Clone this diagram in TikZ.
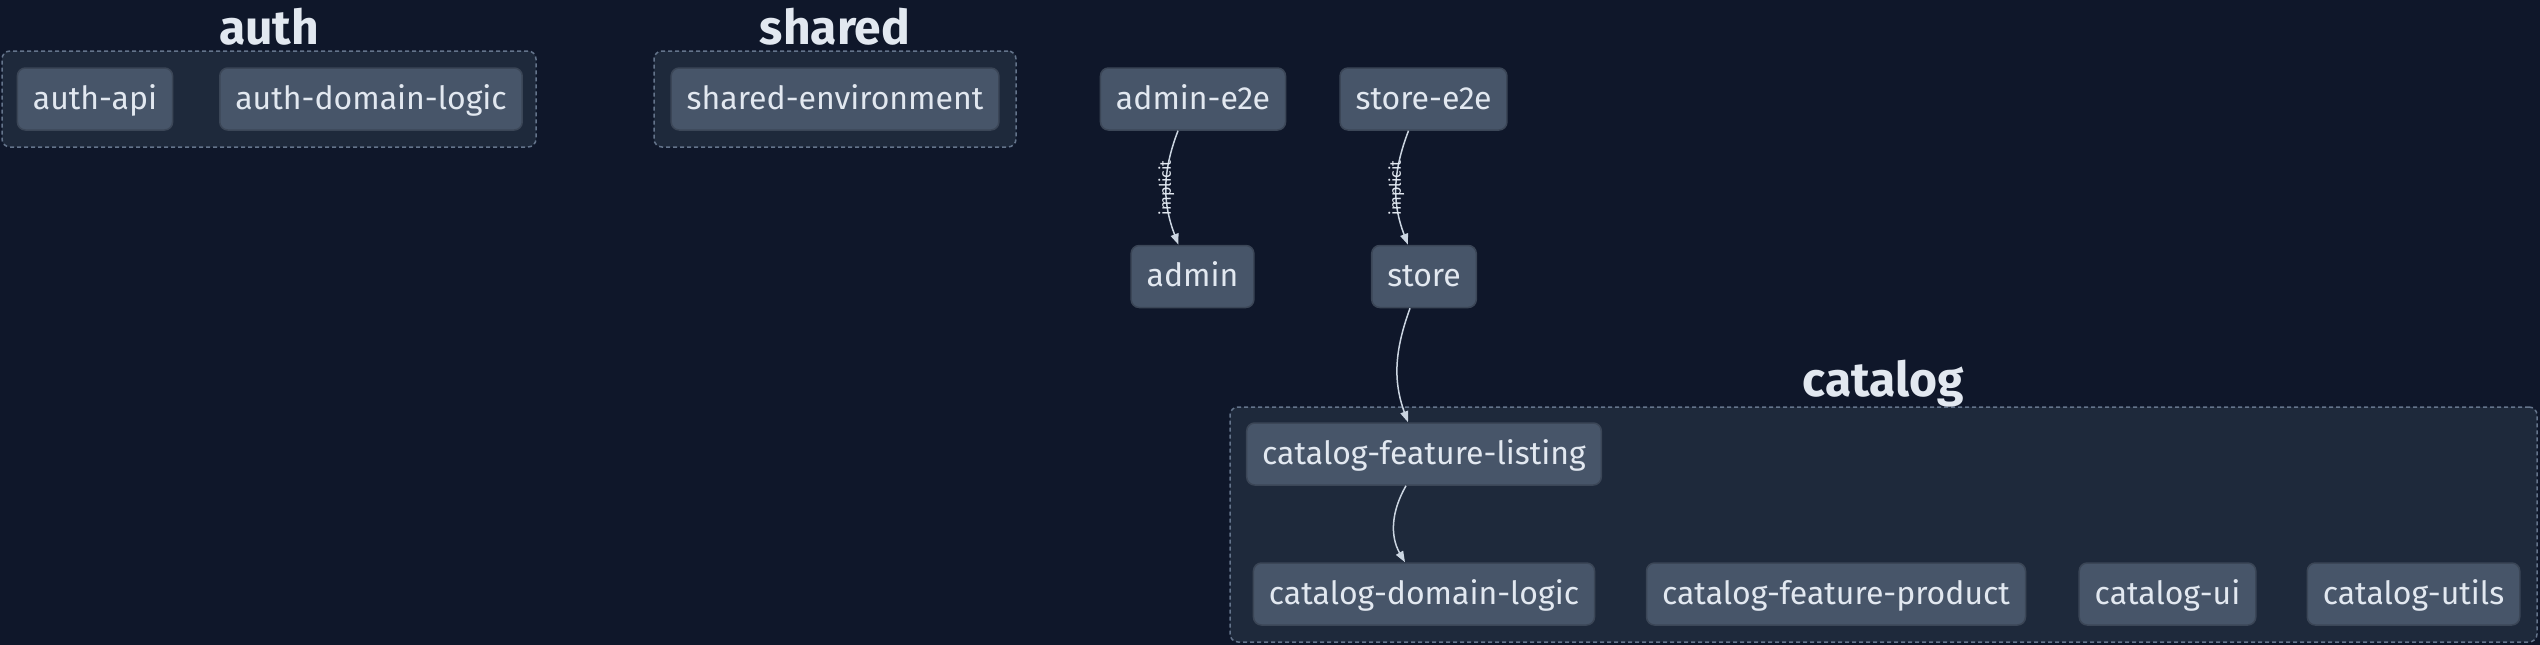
\documentclass[tikz,border=0pt]{standalone}
\usepackage{fontspec}
\setmainfont{Fira Sans}
\usetikzlibrary{arrows.meta}
\definecolor{bgdark}{HTML}{0F172A}
\definecolor{groupfill}{HTML}{1E293B}
\definecolor{groupline}{HTML}{64748B}
\definecolor{projfill}{HTML}{475569}
\definecolor{projline}{HTML}{3B4657}
\definecolor{labeltext}{HTML}{E2E8F0}
\definecolor{edgeline}{HTML}{CBD5E1}
\tikzset{
  project/.style={draw=projline,fill=projfill,rounded corners=8pt,line width=1.5pt,
    text=labeltext,font=\fontsize{32}{38}\selectfont,minimum height=62pt,
    inner xsep=15.5pt,text height=25pt,text depth=5pt},
  group/.style={draw=groupline,fill=groupfill,dash pattern=on 4pt off 3pt,
    rounded corners=8pt,line width=1.5pt},
  grouptitle/.style={text=labeltext,font=\fontsize{48}{56}\selectfont\bfseries,anchor=base},
  dep/.style={draw=edgeline,line width=1.5pt,->},
  implicitlabel/.style={text=labeltext,font=\fontsize{16}{18}\selectfont,rotate=90,inner sep=0pt}
}
\begin{document}
\begin{tikzpicture}[x=1pt,y=-1pt,>={Triangle[length=11pt,width=8pt]}]
\useasboundingbox (0,0) rectangle (2540,645);
\fill[bgdark] (0,0) rectangle (2540,645);

% groups
\node[group,minimum width=534pt,minimum height=96pt] (authgroup) at (269,99) {};
\node[grouptitle] (authtitle) at ([yshift=6pt]authgroup.north) {auth};
\node[group,minimum width=362pt,minimum height=96pt] (sharedgroup) at (835,99) {};
\node[grouptitle] (sharedtitle) at ([yshift=6pt]sharedgroup.north) {shared};
\node[group,minimum width=1307pt,minimum height=235pt] (cataloggroup) at (1883.5,524.5) {};
\node[grouptitle] (catalogtitle) at ([yshift=10pt]cataloggroup.north) {catalog};

% projects
\node[project] (authapi) at (95,99) {auth-api};
\node[project] (authdomain) at (371,99) {auth-domain-logic};
\node[project] (sharedenv) at (835,99) {shared-environment};
\node[project] (admine2e) at (1193,99) {admin-e2e};
\node[project] (storee2e) at (1423.5,99) {store-e2e};
\node[project] (admin) at (1192.5,276.5) {admin};
\node[project] (store) at (1424,276.5) {store};
\node[project] (catlisting) at (1424,454) {catalog-feature-listing};
\node[project] (catdomain) at (1424,594) {catalog-domain-logic};
\node[project] (catproduct) at (1836,594) {catalog-feature-product};
\node[project] (catui) at (2167.5,594) {catalog-ui};
\node[project] (catutils) at (2413.5,594) {catalog-utils};

% dependencies
\draw[dep] ([xshift=-15pt]admine2e.south) to[out=-111,in=111]
  node[implicitlabel] (adminimpl) {implicit} ([xshift=-14pt]admin.north);
\draw[dep] ([xshift=-15pt]storee2e.south) to[out=-111,in=111]
  node[implicitlabel] (storeimpl) {implicit} ([xshift=-16pt]store.north);
\draw[dep] ([xshift=-14pt]store.south) to[out=-110,in=110] ([xshift=-16pt]catlisting.north);
\draw[dep] ([xshift=-18pt]catlisting.south) to[out=-120,in=120] ([xshift=-19pt]catdomain.north);
\end{tikzpicture}
\end{document}
